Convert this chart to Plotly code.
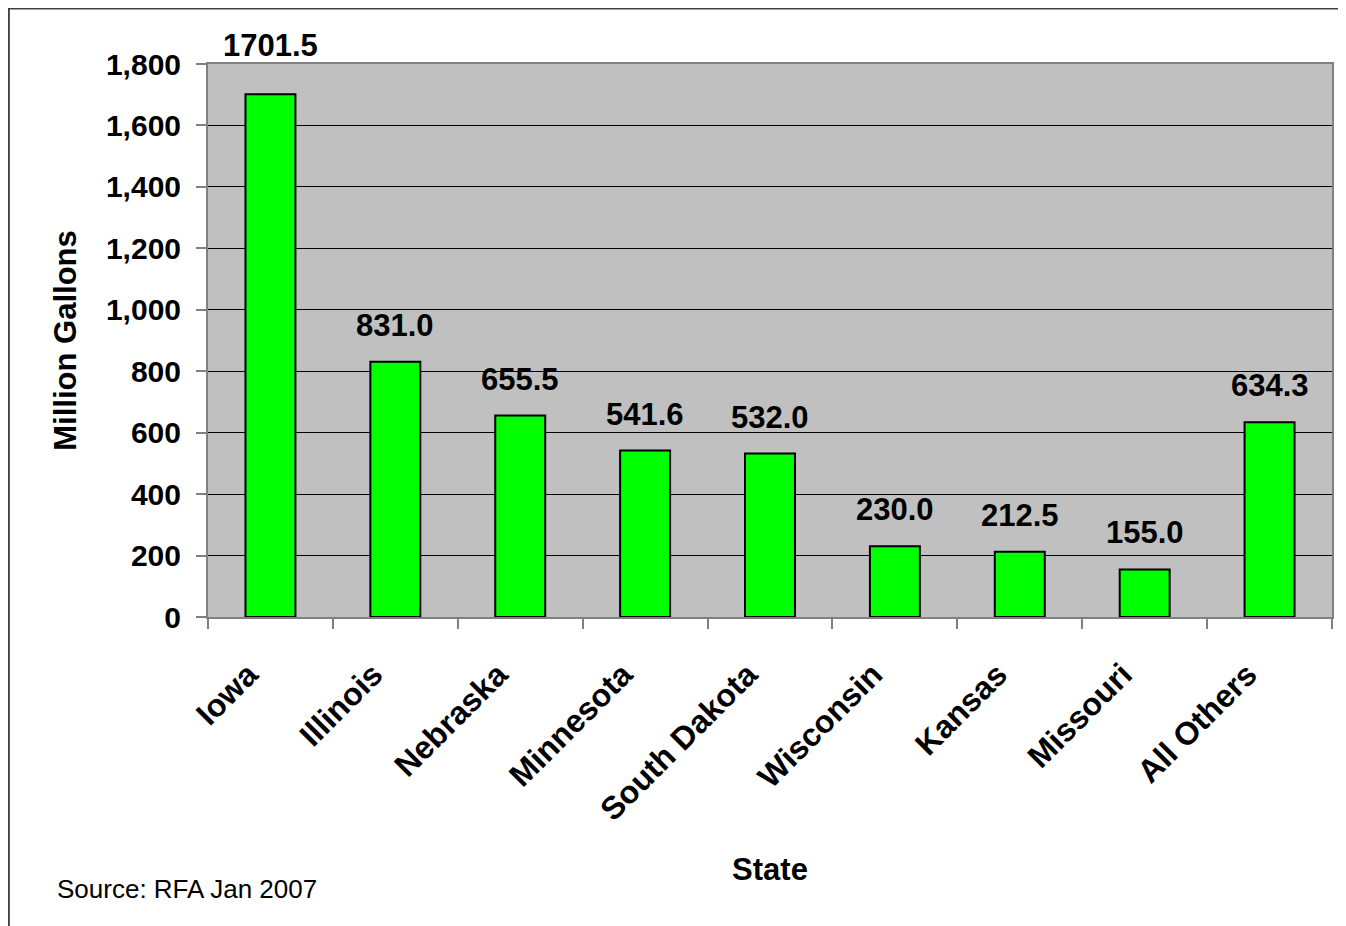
import plotly.graph_objects as go

states = ["Iowa", "Illinois", "Nebraska", "Minnesota", "South Dakota",
          "Wisconsin", "Kansas", "Missouri", "All Others"]
production = [1701.5, 831.0, 655.5, 541.6, 532.0, 230.0, 212.5, 155.0, 634.3]
y_ticks = [0, 200, 400, 600, 800, 1000, 1200, 1400, 1600, 1800]

FONT = "Liberation Sans"
Y_MAX = 1800

fig = go.Figure()
fig.add_trace(go.Bar(
    x=states, y=production, width=0.4,
    marker=dict(color="#00FF00", line=dict(color="#000000", width=2)),
    hoverinfo="x+y",
))

for s, v in zip(states, production):
    # labels that would touch the top of the plot area are lifted clear of it
    shift = 29 if v > 0.9 * Y_MAX else 17
    fig.add_annotation(
        x=s, y=v, text=f"<b>{v:.1f}</b>", showarrow=False,
        yanchor="bottom", yshift=shift,
        font=dict(family=FONT, size=31, color="#000000"),
    )

fig.add_annotation(
    xref="paper", yref="paper", x=-0.136, y=-0.492,
    text="Source: RFA Jan 2007", showarrow=False,
    xanchor="left", yanchor="middle",
    font=dict(family=FONT, size=26, color="#000000"),
)

fig.add_shape(
    type="rect", xref="paper", yref="paper",
    x0=-0.1772, x1=1.05, y0=-0.7, y1=1.1005,
    line=dict(color="#404040", width=2), fillcolor="rgba(0,0,0,0)",
    layer="below",
)

fig.update_layout(
    width=1338, height=918,
    margin=dict(l=200, r=12, t=56, b=309),
    paper_bgcolor="#FFFFFF", plot_bgcolor="#C0C0C0",
    showlegend=False, bargap=0.6,
    font=dict(family=FONT, color="#000000"),
)

fig.update_xaxes(
    type="category", tickson="boundaries", ticks="outside", ticklen=10,
    tickcolor="#808080", tickwidth=2, tickangle=-45,
    ticklabelstandoff=24, ticklabelshift=-22,
    tickfont=dict(family=FONT, size=32, color="#000000", weight="bold"),
    showline=True, linecolor="#808080", linewidth=2, mirror=True,
    showgrid=False,
    title=dict(text="<b>State</b>", font=dict(family=FONT, size=31), standoff=32),
)

fig.update_yaxes(
    range=[0, Y_MAX], tickvals=y_ticks, tickformat=",d",
    ticks="outside", ticklen=10, tickcolor="#808080", tickwidth=2,
    ticklabelstandoff=9,
    tickfont=dict(family=FONT, size=30, color="#000000", weight="bold"),
    showline=True, linecolor="#808080", linewidth=2, mirror=True,
    showgrid=True, gridcolor="#000000", gridwidth=1,
    zeroline=False,
    title=dict(text="<b>Million Gallons</b>", font=dict(family=FONT, size=31), standoff=20),
)

fig.write_html("out.html")
